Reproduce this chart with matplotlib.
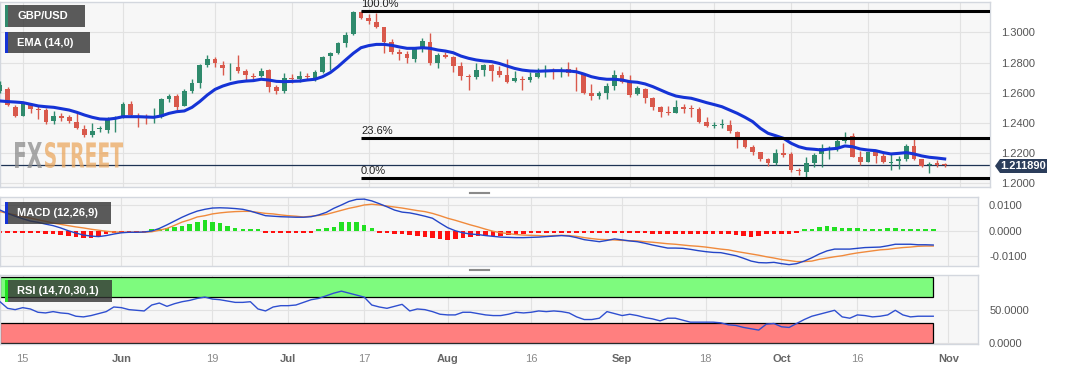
import numpy as np
import pandas as pd
import matplotlib
matplotlib.use("Agg")
import matplotlib.pyplot as plt
from matplotlib.patches import Rectangle, Polygon, PathPatch
from matplotlib.textpath import TextPath
from matplotlib.font_manager import FontProperties
from matplotlib.transforms import Affine2D

plt.rcParams['font.family'] = ['Liberation Sans', 'DejaVu Sans']
plt.rcParams['axes.unicode_minus'] = False

W, H = 1067, 370

# daily GBP/USD candles, first one is 2023-05-10
opens = [1.2614, 1.2623, 1.2508, 1.2449, 1.2517, 1.2493, 1.2484, 1.2414, 1.2444, 1.2440,
         1.2409, 1.2363, 1.2323, 1.2358, 1.2354, 1.2438, 1.2442, 1.2524, 1.2449, 1.2442,
         1.2438, 1.2438, 1.2559, 1.2579, 1.2515, 1.2614, 1.2667, 1.2784, 1.2824, 1.2787,
         1.2762, 1.2769, 1.2745, 1.2714, 1.2714, 1.2751, 1.2641, 1.2614, 1.2700, 1.2692,
         1.2709, 1.2696, 1.2740, 1.2844, 1.2864, 1.2932, 1.2990, 1.3133, 1.3094, 1.3071,
         1.3034, 1.2939, 1.2868, 1.2857, 1.2822, 1.2901, 1.2939, 1.2795, 1.2851, 1.2835,
         1.2778, 1.2714, 1.2707, 1.2751, 1.2784, 1.2747, 1.2718, 1.2678, 1.2694, 1.2683,
         1.2707, 1.2740, 1.2749, 1.2740, 1.2756, 1.2747, 1.2725, 1.2601, 1.2579, 1.2601,
         1.2645, 1.2716, 1.2674, 1.2590, 1.2625, 1.2564, 1.2508, 1.2475, 1.2469, 1.2508,
         1.2500, 1.2491, 1.2407, 1.2383, 1.2387, 1.2387, 1.2343, 1.2299, 1.2243, 1.2208,
         1.2160, 1.2133, 1.2204, 1.2195, 1.2089, 1.2078, 1.2133, 1.2195, 1.2230, 1.2232,
         1.2283, 1.2314, 1.2177, 1.2144, 1.2206, 1.2182, 1.2138, 1.2146, 1.2164, 1.2248,
         1.2160, 1.2122, 1.2133, 1.2127]
highs = [1.2678, 1.2641, 1.2520, 1.2530, 1.2535, 1.2513, 1.2497, 1.2482, 1.2464, 1.2451,
         1.2464, 1.2385, 1.2398, 1.2380, 1.2438, 1.2447, 1.2542, 1.2546, 1.2464, 1.2460,
         1.2497, 1.2564, 1.2590, 1.2592, 1.2623, 1.2690, 1.2789, 1.2851, 1.2835, 1.2811,
         1.2800, 1.2851, 1.2756, 1.2734, 1.2762, 1.2756, 1.2652, 1.2729, 1.2725, 1.2745,
         1.2734, 1.2751, 1.2844, 1.2873, 1.2939, 1.3001, 1.3142, 1.3142, 1.3120, 1.3127,
         1.3038, 1.2954, 1.2888, 1.2879, 1.2906, 1.2965, 1.2999, 1.2862, 1.2873, 1.2844,
         1.2807, 1.2725, 1.2795, 1.2791, 1.2791, 1.2780, 1.2822, 1.2747, 1.2712, 1.2740,
         1.2767, 1.2784, 1.2767, 1.2773, 1.2802, 1.2769, 1.2729, 1.2656, 1.2614, 1.2663,
         1.2751, 1.2740, 1.2718, 1.2645, 1.2634, 1.2575, 1.2513, 1.2513, 1.2553, 1.2524,
         1.2520, 1.2504, 1.2442, 1.2407, 1.2425, 1.2420, 1.2349, 1.2303, 1.2255, 1.2210,
         1.2166, 1.2226, 1.2270, 1.2210, 1.2100, 1.2177, 1.2199, 1.2259, 1.2250, 1.2292,
         1.2338, 1.2332, 1.2217, 1.2210, 1.2221, 1.2199, 1.2195, 1.2182, 1.2259, 1.2299,
         1.2164, 1.2140, 1.2155, 1.2133]
lows = [1.2601, 1.2513, 1.2438, 1.2447, 1.2469, 1.2425, 1.2394, 1.2394, 1.2416, 1.2403,
        1.2358, 1.2305, 1.2310, 1.2341, 1.2336, 1.2343, 1.2431, 1.2442, 1.2372, 1.2394,
        1.2398, 1.2431, 1.2542, 1.2486, 1.2513, 1.2601, 1.2630, 1.2773, 1.2769, 1.2718,
        1.2685, 1.2729, 1.2685, 1.2690, 1.2707, 1.2608, 1.2590, 1.2597, 1.2663, 1.2674,
        1.2690, 1.2681, 1.2734, 1.2751, 1.2857, 1.2906, 1.2985, 1.3089, 1.3056, 1.3027,
        1.2866, 1.2857, 1.2818, 1.2798, 1.2807, 1.2873, 1.2782, 1.2762, 1.2829, 1.2740,
        1.2685, 1.2619, 1.2690, 1.2712, 1.2681, 1.2707, 1.2667, 1.2670, 1.2619, 1.2674,
        1.2696, 1.2707, 1.2690, 1.2707, 1.2712, 1.2614, 1.2590, 1.2553, 1.2561, 1.2561,
        1.2619, 1.2667, 1.2575, 1.2586, 1.2530, 1.2486, 1.2442, 1.2453, 1.2464, 1.2464,
        1.2438, 1.2403, 1.2376, 1.2369, 1.2369, 1.2336, 1.2232, 1.2232, 1.2188, 1.2151,
        1.2115, 1.2122, 1.2177, 1.2078, 1.2056, 1.2040, 1.2111, 1.2111, 1.2160, 1.2215,
        1.2266, 1.2173, 1.2122, 1.2140, 1.2133, 1.2133, 1.2089, 1.2093, 1.2151, 1.2155,
        1.2111, 1.2067, 1.2111, 1.2111]
closes = [1.2652, 1.2520, 1.2447, 1.2524, 1.2491, 1.2486, 1.2409, 1.2447, 1.2436, 1.2414,
          1.2365, 1.2321, 1.2345, 1.2365, 1.2420, 1.2442, 1.2524, 1.2453, 1.2442, 1.2431,
          1.2447, 1.2559, 1.2579, 1.2504, 1.2614, 1.2663, 1.2782, 1.2822, 1.2795, 1.2767,
          1.2767, 1.2747, 1.2718, 1.2705, 1.2747, 1.2637, 1.2612, 1.2698, 1.2692, 1.2709,
          1.2703, 1.2738, 1.2840, 1.2864, 1.2932, 1.2985, 1.3138, 1.3094, 1.3078, 1.3038,
          1.2939, 1.2873, 1.2857, 1.2829, 1.2890, 1.2941, 1.2800, 1.2851, 1.2835, 1.2780,
          1.2712, 1.2707, 1.2751, 1.2784, 1.2747, 1.2718, 1.2674, 1.2696, 1.2687, 1.2703,
          1.2734, 1.2747, 1.2738, 1.2751, 1.2734, 1.2740, 1.2601, 1.2579, 1.2601, 1.2645,
          1.2718, 1.2674, 1.2586, 1.2630, 1.2564, 1.2508, 1.2475, 1.2464, 1.2508, 1.2491,
          1.2493, 1.2409, 1.2383, 1.2387, 1.2394, 1.2347, 1.2310, 1.2243, 1.2210, 1.2160,
          1.2133, 1.2199, 1.2186, 1.2089, 1.2080, 1.2133, 1.2188, 1.2232, 1.2237, 1.2283,
          1.2310, 1.2177, 1.2144, 1.2206, 1.2184, 1.2144, 1.2142, 1.2164, 1.2248, 1.2164,
          1.2115, 1.2129, 1.2124, 1.2119]
ema14 = [1.2546, 1.2542, 1.2539, 1.2535, 1.2524, 1.2513, 1.2508, 1.2504, 1.2495, 1.2486,
         1.2471, 1.2453, 1.2438, 1.2427, 1.2425, 1.2431, 1.2442, 1.2442, 1.2442, 1.2440,
         1.2438, 1.2447, 1.2464, 1.2475, 1.2480, 1.2504, 1.2542, 1.2586, 1.2623, 1.2645,
         1.2661, 1.2672, 1.2678, 1.2681, 1.2690, 1.2685, 1.2676, 1.2674, 1.2676, 1.2678,
         1.2685, 1.2690, 1.2707, 1.2734, 1.2773, 1.2818, 1.2862, 1.2899, 1.2913, 1.2921,
         1.2921, 1.2915, 1.2904, 1.2895, 1.2895, 1.2899, 1.2895, 1.2884, 1.2877, 1.2866,
         1.2844, 1.2829, 1.2818, 1.2811, 1.2807, 1.2795, 1.2778, 1.2762, 1.2751, 1.2745,
         1.2743, 1.2745, 1.2747, 1.2747, 1.2745, 1.2740, 1.2725, 1.2707, 1.2696, 1.2690,
         1.2690, 1.2685, 1.2674, 1.2670, 1.2659, 1.2641, 1.2619, 1.2597, 1.2579, 1.2570,
         1.2564, 1.2550, 1.2535, 1.2522, 1.2508, 1.2486, 1.2464, 1.2438, 1.2409, 1.2365,
         1.2332, 1.2316, 1.2299, 1.2266, 1.2243, 1.2230, 1.2226, 1.2221, 1.2228, 1.2232,
         1.2248, 1.2243, 1.2228, 1.2221, 1.2217, 1.2204, 1.2195, 1.2199, 1.2204, 1.2195,
         1.2182, 1.2173, 1.2168, 1.2162]
last_price = 1.21189
fib_high, fib_low = 1.3142, 1.2038
fib_start = 47  # candle of the July high

# MACD (12,26,9), values in 1e-4
macd_line = [82, 69, 58, 48, 39, 34, 27, 21, 12, 1, -8, -16, -20, -22, -18, -12, -7, -5, -5, -4,
             0, 10, 24, 39, 54, 67, 78, 85, 90, 91, 90, 88, 85, 78, 69, 60, 58, 56, 55, 54,
             54, 56, 63, 73, 89, 102, 116, 124, 125, 118, 107, 95, 82, 74, 71, 65, 58, 50, 31, 13,
             1, -7, -12, -14, -18, -21, -24, -25, -26, -26, -25, -24, -22, -20, -18, -20, -26, -34, -38, -42,
             -37, -31, -35, -39, -42, -48, -55, -61, -67, -67, -68, -72, -77, -81, -84, -85, -91, -97, -107, -118,
             -124, -125, -123, -128, -132, -128, -118, -105, -90, -78, -71, -71, -71, -68, -65, -64, -63, -58, -52, -52,
             -52, -54, -54, -55]
macd_signal = [76, 69, 63, 56, 51, 44, 38, 31, 26, 21, 16, 12, 7, 3, -1, -4, -5, -5, -5, -5,
               -3, 3, 10, 22, 35, 44, 55, 60, 67, 71, 74, 76, 77, 77, 73, 69, 67, 63, 60, 58,
               55, 58, 61, 65, 73, 81, 89, 95, 102, 105, 102, 98, 94, 90, 85, 80, 76, 69, 60, 50,
               42, 33, 24, 16, 7, -1, -7, -10, -14, -16, -17, -18, -20, -18, -17, -18, -21, -26, -30, -33,
               -34, -35, -37, -38, -39, -42, -44, -47, -50, -52, -55, -58, -60, -63, -67, -71, -74, -80, -85, -90,
               -95, -101, -106, -112, -116, -120, -120, -118, -111, -106, -101, -97, -91, -86, -82, -78, -74, -72, -68, -65,
               -63, -60, -59, -59]
macd_hist = [-3, -5, -7, -7, -8, -9, -10, -13, -16, -18, -22, -26, -26, -22, -13, -5, -3, -1, -1, -1,
             1, 8, 13, 16, 21, 27, 37, 43, 37, 30, 21, 13, 7, 4, 1, -4, -5, -5, -4, -4,
             -3, -1, 5, 10, 17, 34, 37, 34, 24, 13, -3, -9, -10, -12, -16, -21, -24, -29, -33, -35,
             -31, -26, -22, -21, -21, -20, -18, -17, -13, -10, -7, -4, -3, -1, -1, -1, -3, -7, -8, -7,
             -5, -4, -4, -5, -7, -9, -12, -13, -12, -10, -10, -10, -12, -12, -12, -12, -13, -16, -18, -24,
             -21, -13, -10, -10, -10, -1, 3, 7, 14, 20, 16, 13, 12, 10, 9, 8, 9, 13, 10, 8,
             5, 4, 3, 2]

# RSI (14)
rsi14 = [63, 53, 51, 54, 52, 47, 46, 48, 46, 45, 41, 40, 42, 45, 48, 55, 54, 51, 50, 49,
         58, 61, 56, 60, 63, 65, 68, 70, 67, 66, 64, 62, 62, 63, 52, 49, 55, 57, 57, 58,
         62, 66, 68, 72, 76, 79, 76, 73, 70, 58, 55, 53, 56, 59, 49, 52, 51, 48, 44, 43,
         43, 47, 47, 45, 43, 42, 42, 44, 47, 46, 47, 49, 48, 49, 48, 46, 40, 36, 36, 38,
         48, 45, 42, 44, 42, 39, 37, 34, 38, 38, 35, 32, 32, 32, 32, 31, 28, 27, 24, 22,
         20, 29, 30, 25, 24, 30, 36, 41, 44, 47, 50, 40, 38, 43, 42, 40, 41, 43, 50, 43,
         40, 41, 41, 41]

tick_dates = ['2023-05-15', '2023-06-01', '2023-06-19', '2023-07-03', '2023-07-17', '2023-08-01',
              '2023-08-16', '2023-09-01', '2023-09-18', '2023-10-02', '2023-10-16', '2023-11-01']
tick_labels = ['15', 'Jun', '19', 'Jul', '17', 'Aug', '16', 'Sep', '18', 'Oct', '16', 'Nov']
price_ticks = [1.20, 1.22, 1.24, 1.26, 1.28, 1.30]

dates = pd.bdate_range('2023-05-10', periods=len(closes))
x = np.arange(len(dates))
tick_pos = np.busday_count(dates[0].date(), np.array(tick_dates, dtype='datetime64[D]'))

fig = plt.figure(figsize=(W / 100, H / 100), dpi=100)


def px_axes(x0, y0, x1, y1):
    return fig.add_axes([x0 / W, 1 - y1 / H, (x1 - x0) / W, (y1 - y0) / H])


def px_rect(x0, y0, x1, y1, **kw):
    r = Rectangle((x0 / W, 1 - y1 / H), (x1 - x0) / W, (y1 - y0) / H,
                  transform=fig.transFigure, **kw)
    fig.add_artist(r)


ax = px_axes(0, 2, 990, 187)
ax_macd = px_axes(0, 197, 978, 266)
ax_rsi = px_axes(0, 275, 978, 344)

for a in (ax, ax_macd, ax_rsi):
    a.set_facecolor('#f7f7f7')
    a.set_xlim(0, 128.9)
    for s in a.spines.values():
        s.set_color('#d3d7de')
        s.set_linewidth(1)
    a.yaxis.tick_right()
    a.tick_params(axis='y', length=0, pad=8, labelsize=8, labelcolor='#555555')
    a.tick_params(axis='x', length=0)
    a.set_xticks(tick_pos)
    a.grid(True, color='#e2e2e2', linewidth=0.8)
    a.set_axisbelow(True)

# ---- price panel
o, h, l, c = map(np.array, (opens, highs, lows, closes))
col = np.where(c >= o, '#2f8a6c', '#d9594c')
ax.vlines(x, l, h, colors=col, linewidth=1, zorder=3)
body = np.maximum(np.abs(c - o), 0.00025)
ax.bar(x, body, bottom=np.minimum(o, c) - (body - np.abs(c - o)) / 2, width=0.62,
       color=col, linewidth=0, zorder=4)
ax.plot(x, ema14, color='#1533d6', linewidth=2.2, zorder=5)
ax.axhline(last_price, color='#1e3354', linewidth=0.9, zorder=2)

fib_levels = [(fib_high, '100.0%'), (fib_low + 0.236 * (fib_high - fib_low), '23.6%'), (fib_low, '0.0%')]
for lvl, name in fib_levels:
    ax.hlines(lvl, fib_start, 128.9, color='black', linewidth=2.2, zorder=6)
    ax.annotate(name, (fib_start, lvl), xytext=(0, 1.5), textcoords='offset points',
                fontsize=8, color='#222222', ha='left', va='bottom', zorder=6)

ax.set_ylim(1.1976, 1.3202)
ax.set_yticks(price_ticks)
ax.set_yticklabels([f'{v:.4f}' for v in price_ticks])
ax.set_xticklabels([])

# ---- MACD panel
hist = np.array(macd_hist) * 1e-4
shown = np.sign(hist) * np.maximum(np.abs(hist), 0.0006)
shown[hist == 0] = 0.0006
ax_macd.bar(x, shown, width=0.6, color=np.where(hist > 0, '#22e022', '#ff1010'), linewidth=0, zorder=2)
ax_macd.plot(x, np.array(macd_signal) * 1e-4, color='#f08a3c', linewidth=1, zorder=3)
ax_macd.plot(x, np.array(macd_line) * 1e-4, color='#2446c8', linewidth=1, zorder=4)
ax_macd.set_ylim(-0.01373, 0.01333)
ax_macd.set_yticks([0.01, 0.0, -0.01])
ax_macd.set_yticklabels(['0.0100', '0.0000', '-0.0100'])
ax_macd.set_xticklabels([])

# ---- RSI panel
ax_rsi.add_patch(Rectangle((0, 70), x[-1], 30, facecolor='#7efb7e', edgecolor='black', linewidth=0.9, zorder=1))
ax_rsi.add_patch(Rectangle((0, 0), x[-1], 30, facecolor='#ff7f7f', edgecolor='black', linewidth=0.9, zorder=1))
ax_rsi.plot(x, rsi14, color='#2f4fd0', linewidth=1, zorder=3)
ax_rsi.set_ylim(-1.1, 103.5)
ax_rsi.set_yticks([50, 0])
ax_rsi.set_yticklabels(['50.0000', '0.0000'])
ax_rsi.set_xticklabels(tick_labels)
ax_rsi.tick_params(axis='x', pad=7, labelsize=8)
for t in ax_rsi.get_xticklabels():
    if t.get_text().isdigit():
        t.set_color('#8a8a8a')
    else:
        t.set_color('#666666')
        t.set_fontweight('bold')

# ---- overlays: legend boxes
def legend_box(x0, y0, x1, y1, text, stripe):
    px_rect(x0, y0, x1, y1, facecolor='#333333', alpha=0.8, linewidth=0, zorder=10)
    px_rect(x0, y0, x0 + 2.5, y1, facecolor=stripe, linewidth=0, zorder=11)
    fig.text((x0 + 12) / W, 1 - (y0 + y1) / 2 / H, text, color='white', fontsize=8,
             fontweight='bold', va='center', ha='left', zorder=12)


legend_box(5, 5, 85, 27, 'GBP/USD', '#2f8a6c')
legend_box(5, 32, 90, 53, 'EMA (14,0)', '#1533d6')
legend_box(5, 202, 111, 224, 'MACD (12,26,9)', '#1533d6')
legend_box(5, 280, 112, 302, 'RSI (14,70,30,1)', '#22e022')

# panel drag handles
for yy in (191.5, 193.2, 268.5, 270.2):
    fig.add_artist(plt.Line2D([469 / W, 489 / W], [1 - yy / H] * 2, color='#8a8a8a', linewidth=0.8))

# current price tag
tag = Polygon([(995 / W, 1 - 166 / H), (1000 / W, 1 - 159 / H), (1047 / W, 1 - 159 / H),
               (1047 / W, 1 - 173 / H), (1000 / W, 1 - 173 / H)], closed=True,
              transform=fig.transFigure, facecolor='#2b3d5b', edgecolor='none')
fig.add_artist(tag)
fig.text(1023.5 / W, 1 - 166 / H, f'{last_price:.6f}', color='white', fontsize=8,
         fontweight='bold', ha='center', va='center')

# watermark
def stretched(s, x0, x1, ytop, ybot, color):
    tp = TextPath((0, 0), s, size=1, prop=FontProperties(family='DejaVu Sans', weight='bold'))
    bb = tp.get_extents()
    tr = Affine2D().translate(-bb.x0, -bb.y0).scale((x1 - x0) / bb.width, (ybot - ytop) / bb.height)
    tr = tr.translate(x0, H - ybot)
    fig.add_artist(PathPatch(tp, transform=tr, facecolor=color, edgecolor='none', alpha=0.75))


stretched('FX', 15, 42, 142, 168, '#8c8c8c')
stretched('STREET', 45, 123, 142, 168, '#eba860')

fig.savefig('out.png', dpi=100)
